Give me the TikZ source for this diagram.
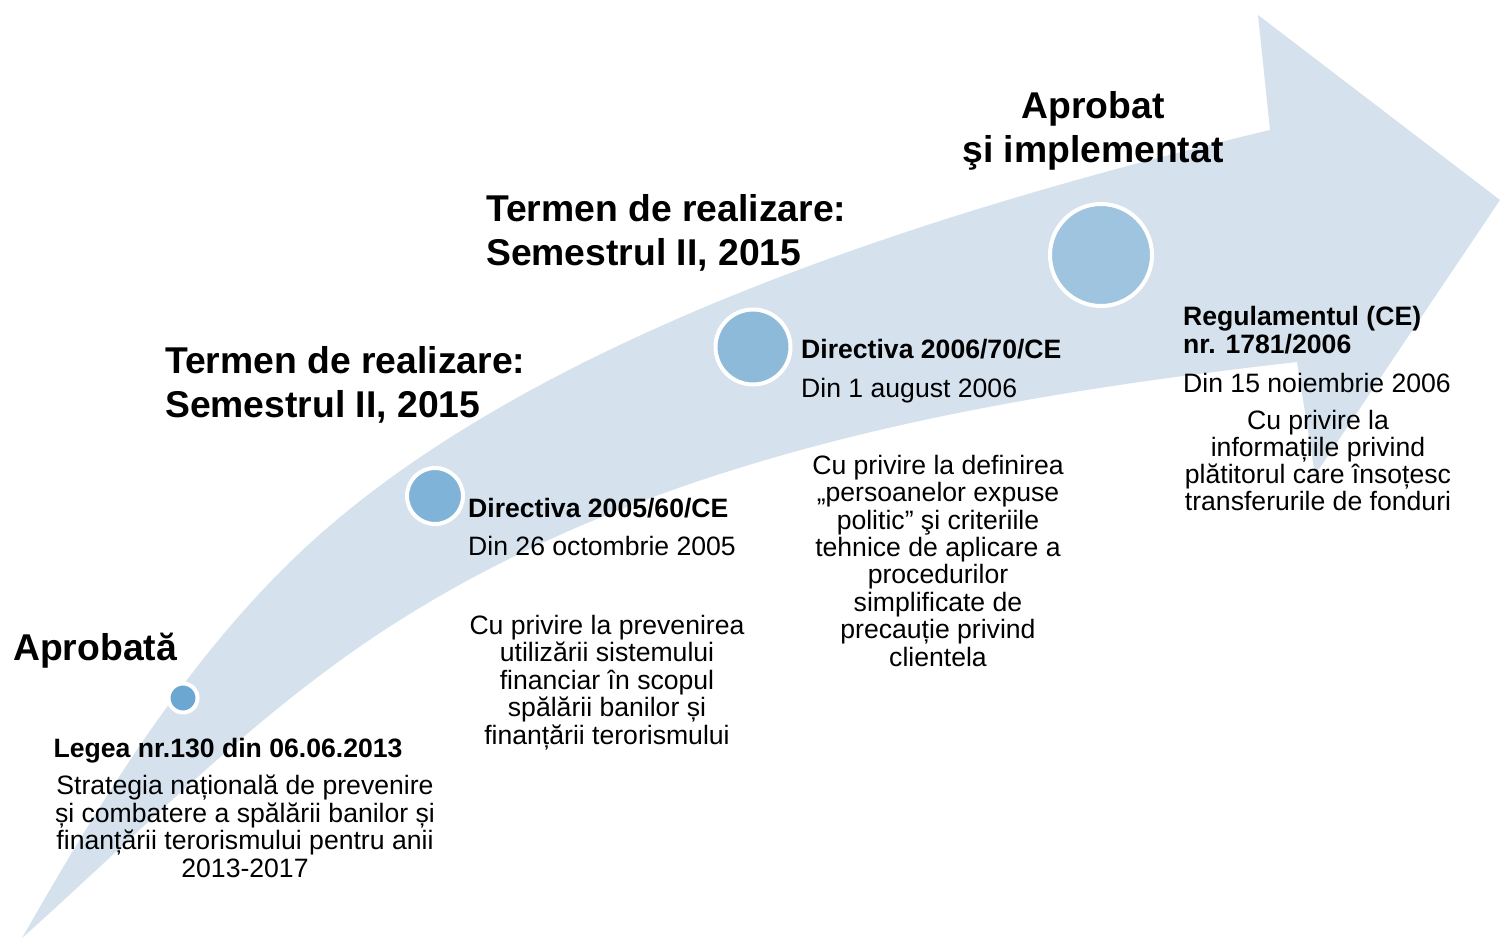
\documentclass[tikz,border=0pt]{standalone}
\usepackage{fontspec}
\setmainfont{Liberation Sans}
\definecolor{bandblue}{RGB}{213,226,238}
\definecolor{dotA}{RGB}{108,167,209}
\definecolor{dotB}{RGB}{128,179,216}
\definecolor{dotC}{RGB}{142,186,218}
\definecolor{dotD}{RGB}{158,196,223}
\begin{document}
\begin{tikzpicture}[x=1pt,y=-1pt,
  band/.style={fill=bandblue},
  dot/.style={circle,draw=white,line width=4pt,inner sep=0pt},
  title/.style={font=\bfseries\fontsize{37.3}{44}\selectfont,inner sep=0pt},
  headtxt/.style={font=\bfseries\fontsize{26.6}{28}\selectfont,inner sep=0pt},
  datetxt/.style={font=\fontsize{26.6}{27.4}\selectfont,inner sep=0pt},
  bodytxt/.style={font=\fontsize{26.6}{27.4}\selectfont,inner sep=0pt,align=center}]
\useasboundingbox (0,0) rectangle (1500,938);
\fill[white] (0,0) rectangle (1500,938);
% curved arrow band
\fill[band] (22,938) .. controls (108,788) and (201,635) .. (333,523)
  .. controls (562,329) and (939,209) .. (1270,130)
  -- (1258,15) -- (1500,200) -- (1315,475) -- (1297,362)
  .. controls (988,397) and (663,454) .. (400,620)
  .. controls (260,708) and (145,828) .. (22,938) -- cycle;
% milestones
\node[dot,fill=dotA,minimum size=29pt] (c1) at (183,698) {};
\node[dot,fill=dotB,minimum size=56pt] (c2) at (435,496) {};
\node[dot,fill=dotC,minimum size=75pt] (c3) at (753,347) {};
\node[dot,fill=dotD,minimum size=102pt] (c4) at (1101,255) {};
% titles (anchor base = baseline of the last line)
\node[title,anchor=base west] (ap) at (13,660) {Aprobată};
\node[title,anchor=base west,align=left] (t1) at (165,417) {Termen de realizare:\\Semestrul II, 2015};
\node[title,anchor=base west,align=left] (t2) at (486,265) {Termen de realizare:\\Semestrul II, 2015};
\node[title,anchor=base,align=center] (t3) at (1093,162) {Aprobat\\şi implementat};
% Legea
\node[headtxt,anchor=base] (lh) at (228,757) {Legea nr.130 din 06.06.2013};
\node[bodytxt,anchor=base] (lb) at (245,877) {Strategia națională de prevenire\\și combatere a spălării banilor și\\finanțării terorismului pentru anii\\2013-2017};
% Directiva 2005
\node[headtxt,anchor=base west] (ah) at (468,517) {Directiva 2005/60/CE};
\node[datetxt,anchor=base west] (ad) at (468,555) {Din 26 octombrie 2005};
\node[bodytxt,anchor=base] (ab) at (607,744) {Cu privire la prevenirea\\utilizării sistemului\\financiar în scopul\\spălării banilor și\\finanțării terorismului};
% Directiva 2006
\node[headtxt,anchor=base west] (bh) at (801,358) {Directiva 2006/70/CE};
\node[datetxt,anchor=base west] (bd) at (801,397) {Din 1 august 2006};
\node[bodytxt,anchor=base] (bb) at (938,666) {Cu privire la definirea\\„persoanelor expuse\\politic” şi criteriile\\tehnice de aplicare a\\procedurilor\\simplificate de\\precauție privind\\clientela};
% Regulament
\node[headtxt,anchor=base west,align=left] (rh) at (1183,353) {Regulamentul (CE)\\nr. 1781/2006};
\node[datetxt,anchor=base west] (rd) at (1183,392) {Din 15 noiembrie 2006};
\node[font=\fontsize{26.6}{26.7}\selectfont,inner sep=0pt,align=center,anchor=base] (rb) at (1318,510) {Cu privire la\\informațiile privind\\plătitorul care însoțesc\\transferurile de fonduri};
\end{tikzpicture}
\end{document}
